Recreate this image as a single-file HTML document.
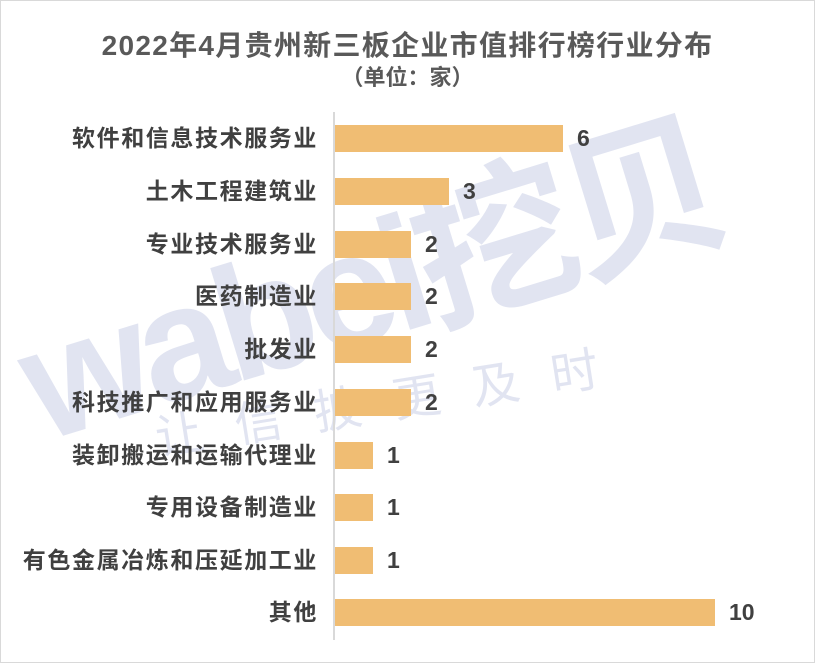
<!DOCTYPE html>
<html><head><meta charset="utf-8"><style>
body{margin:0;width:815px;height:663px;background:#fff;overflow:hidden;position:relative;font-family:"Liberation Sans","Noto Sans CJK SC",sans-serif}
.frame{position:absolute;left:0;top:0;width:813px;height:661px;border:1px solid #d9d9d9}
.t{position:absolute;left:0;width:815px;text-align:center;color:#595959;font-weight:bold}
.lab{position:absolute;right:497px;font-size:23px;letter-spacing:1.6px;font-weight:bold;color:#404040;white-space:nowrap;line-height:28px}
.bar{position:absolute;left:335px;height:27px;background:#f0bd73}
.val{position:absolute;font-size:23px;font-weight:bold;color:#404040;line-height:28px}
.wm{position:absolute;color:#dadeee;font-weight:bold;white-space:nowrap;transform-origin:left bottom}
</style></head><body>
<div class="frame"></div>
<div class="wm" style="left:50px;top:305px;font-size:162px;line-height:162px;transform:rotate(-17deg);opacity:.8;letter-spacing:-8px;">wabei挖贝</div>
<div class="wm" style="left:160px;top:415px;font-size:48px;line-height:50px;font-weight:normal;transform:rotate(-9deg);letter-spacing:32px;opacity:.8">让信披更及时</div>
<div class="t" style="top:24px;font-size:28px;letter-spacing:1.3px">2022年4月贵州新三板企业市值排行榜行业分布</div>
<div class="t" style="top:60px;font-size:22px">（单位：家）</div>
<div style="position:absolute;left:333px;top:112px;width:2px;height:528px;background:#d9d9d9"></div>
<div class="lab" style="top:124px">软件和信息技术服务业</div><div class="bar" style="top:125px;width:228px"></div><div class="val" style="top:124px;left:577px">6</div>
<div class="lab" style="top:177px">土木工程建筑业</div><div class="bar" style="top:178px;width:114px"></div><div class="val" style="top:177px;left:463px">3</div>
<div class="lab" style="top:230px">专业技术服务业</div><div class="bar" style="top:231px;width:76px"></div><div class="val" style="top:230px;left:425px">2</div>
<div class="lab" style="top:282px">医药制造业</div><div class="bar" style="top:283px;width:76px"></div><div class="val" style="top:282px;left:425px">2</div>
<div class="lab" style="top:335px">批发业</div><div class="bar" style="top:336px;width:76px"></div><div class="val" style="top:335px;left:425px">2</div>
<div class="lab" style="top:388px">科技推广和应用服务业</div><div class="bar" style="top:389px;width:76px"></div><div class="val" style="top:388px;left:425px">2</div>
<div class="lab" style="top:441px">装卸搬运和运输代理业</div><div class="bar" style="top:442px;width:38px"></div><div class="val" style="top:441px;left:387px">1</div>
<div class="lab" style="top:493px">专用设备制造业</div><div class="bar" style="top:494px;width:38px"></div><div class="val" style="top:493px;left:387px">1</div>
<div class="lab" style="top:546px">有色金属冶炼和压延加工业</div><div class="bar" style="top:547px;width:38px"></div><div class="val" style="top:546px;left:387px">1</div>
<div class="lab" style="top:598px">其他</div><div class="bar" style="top:599px;width:380px"></div><div class="val" style="top:598px;left:729px">10</div>
</body></html>
